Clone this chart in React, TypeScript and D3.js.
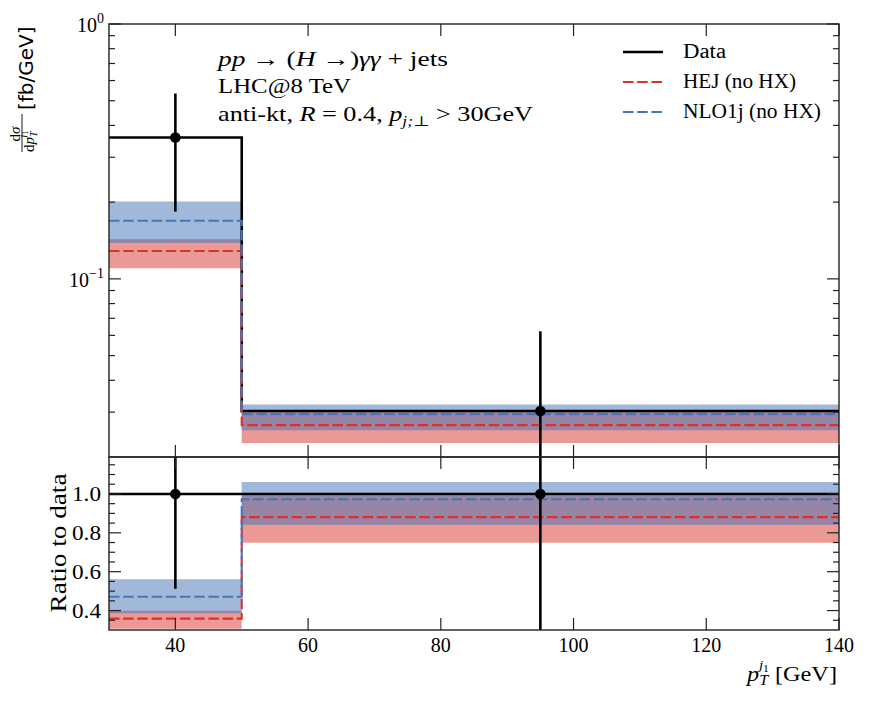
import * as d3 from "d3";

// bins and values
const binEdges = [30, 50, 140];
const binCentres = [40, 95];
const dataVals = [0.3586, 0.0303];
const dataErr = [0.175, 0.032];
const hejVals = [0.1286, 0.02668];
const hejLow = [0.11, 0.0227];
const hejHigh = [0.1429, 0.0301];
const nloVals = [0.169, 0.02947];
const nloLow = [0.1383, 0.02548];
const nloHigh = [0.201, 0.03216];

const xTicks = [40, 60, 80, 100, 120, 140];
const mainMajor = [1, 0.1];
const mainMinor = [0.03, 0.04, 0.05, 0.06, 0.07, 0.08, 0.09, 0.2, 0.3, 0.4, 0.5, 0.6, 0.7, 0.8, 0.9];
const ratioMajor = [0.4, 0.6, 0.8, 1.0];
const ratioMinor = [0.35, 0.45, 0.5, 0.55, 0.65, 0.7, 0.75, 0.85, 0.9, 0.95, 1.05, 1.1, 1.15];

const W = 872;
const H = 708;
const LEFT = 109;
const RIGHT = 839;
const MAIN = { top: 24, bottom: 457 };
const RATIO = { top: 457, bottom: 630 };

const BLUE = "#4676b8";
const RED = "#dc302c";
const BLUE_BAND = "rgba(66,114,180,0.5)";
const RED_BAND = "rgba(214,52,44,0.5)";
const SERIF = "'Liberation Serif', 'DejaVu Serif', serif";
const SANS = "'DejaVu Sans', sans-serif";
const DASH = "10.5 3.7";

const MAJ = 12;
const MIN = 6;

type Pt = { x: number; y: number };
type Band = { x: number; lo: number; hi: number };

const stepPts = (vals: number[]): Pt[] =>
  binEdges.map((x, i) => ({ x, y: vals[Math.min(i, vals.length - 1)] }));
const bandPts = (lo: number[], hi: number[]): Band[] =>
  binEdges.map((x, i) => {
    const k = Math.min(i, lo.length - 1);
    return { x, lo: lo[k], hi: hi[k] };
  });

export default function App() {
  const x = d3.scaleLinear().domain([30, 140]).range([LEFT, RIGHT]);
  const yMain = d3.scaleLog().domain([0.02, 1]).range([MAIN.bottom, MAIN.top]);
  const yRatio = d3.scaleLinear().domain([0.3, 1.19]).range([RATIO.bottom, RATIO.top]);

  const ratio = (v: number[]) => v.map((d, i) => d / dataVals[i]);

  const line = (y: (v: number) => number) =>
    d3
      .line<Pt>()
      .x((d) => x(d.x))
      .y((d) => y(d.y))
      .curve(d3.curveStepAfter);
  const area = (y: (v: number) => number) =>
    d3
      .area<Band>()
      .x((d) => x(d.x))
      .y0((d) => y(d.lo))
      .y1((d) => y(d.hi))
      .curve(d3.curveStepAfter);

  // negative lower error ends are clipped anyway
  const safeLog = (v: number) => yMain(Math.max(v, 0.005));

  const panel = (
    id: string,
    y: (v: number) => number,
    vals: {
      data: number[];
      err: number[];
      hej: number[];
      hejL: number[];
      hejH: number[];
      nlo: number[];
      nloL: number[];
      nloH: number[];
    }
  ) => (
    <g clipPath={`url(#${id})`}>
      <path d={area(y)(bandPts(vals.hejL, vals.hejH)) || ""} fill={RED_BAND} />
      <path d={area(y)(bandPts(vals.nloL, vals.nloH)) || ""} fill={BLUE_BAND} />
      <path d={line(y)(stepPts(vals.data)) || ""} fill="none" stroke="#000" strokeWidth={2.6} />
      <path
        d={line(y)(stepPts(vals.hej)) || ""}
        fill="none"
        stroke={RED}
        strokeWidth={2.1}
        strokeDasharray={DASH}
      />
      <path
        d={line(y)(stepPts(vals.nlo)) || ""}
        fill="none"
        stroke={BLUE}
        strokeWidth={2.1}
        strokeDasharray={DASH}
      />
      {binCentres.map((c, i) => (
        <g key={i}>
          <line
            x1={x(c)}
            x2={x(c)}
            y1={y(vals.data[i] - vals.err[i])}
            y2={y(vals.data[i] + vals.err[i])}
            stroke="#000"
            strokeWidth={2.6}
          />
          <circle cx={x(c)} cy={y(vals.data[i])} r={5.3} fill="#000" />
        </g>
      ))}
    </g>
  );

  const xTickMarks = (top: number, bottom: number) =>
    xTicks.map((t) => (
      <g key={`${top}-${t}`} stroke="#222" strokeWidth={1.2}>
        <line x1={x(t)} x2={x(t)} y1={top} y2={top + MAJ} />
        <line x1={x(t)} x2={x(t)} y1={bottom} y2={bottom - MAJ} />
      </g>
    ));

  const yTickMarks = (y: (v: number) => number, major: number[], minor: number[]) => (
    <g stroke="#222" strokeWidth={1.2}>
      {major.map((t) => (
        <g key={`M${t}`}>
          <line x1={LEFT} x2={LEFT + MAJ} y1={y(t)} y2={y(t)} />
          <line x1={RIGHT} x2={RIGHT - MAJ} y1={y(t)} y2={y(t)} />
        </g>
      ))}
      {minor.map((t) => (
        <g key={`m${t}`}>
          <line x1={LEFT} x2={LEFT + MIN} y1={y(t)} y2={y(t)} />
          <line x1={RIGHT} x2={RIGHT - MIN} y1={y(t)} y2={y(t)} />
        </g>
      ))}
    </g>
  );

  const legend = [
    { label: "Data", color: "#000", dash: undefined, width: 43, lw: 2.6 },
    { label: "HEJ (no HX)", color: RED, dash: DASH, width: 113, lw: 2.1 },
    { label: "NLO1j (no HX)", color: BLUE, dash: DASH, width: 138, lw: 2.1 },
  ];

  return (
    <svg width={W} height={H} style={{ display: "block", margin: -8 }} fontFamily={SERIF}>
      <defs>
        <clipPath id="clipMain">
          <rect x={LEFT} y={MAIN.top} width={RIGHT - LEFT} height={MAIN.bottom - MAIN.top} />
        </clipPath>
        <clipPath id="clipRatio">
          <rect x={LEFT} y={RATIO.top} width={RIGHT - LEFT} height={RATIO.bottom - RATIO.top} />
        </clipPath>
      </defs>
      <rect width={W} height={H} fill="#fff" />

      {panel("clipMain", safeLog, {
        data: dataVals,
        err: dataErr,
        hej: hejVals,
        hejL: hejLow,
        hejH: hejHigh,
        nlo: nloVals,
        nloL: nloLow,
        nloH: nloHigh,
      })}
      {panel("clipRatio", yRatio, {
        data: ratio(dataVals),
        err: ratio(dataErr),
        hej: ratio(hejVals),
        hejL: ratio(hejLow),
        hejH: ratio(hejHigh),
        nlo: ratio(nloVals),
        nloL: ratio(nloLow),
        nloH: ratio(nloHigh),
      })}

      {/* frames and ticks */}
      <rect x={LEFT} y={MAIN.top} width={RIGHT - LEFT} height={MAIN.bottom - MAIN.top} fill="none" stroke="#222" strokeWidth={1.4} />
      <rect x={LEFT} y={RATIO.top} width={RIGHT - LEFT} height={RATIO.bottom - RATIO.top} fill="none" stroke="#222" strokeWidth={1.4} />
      {xTickMarks(MAIN.top, MAIN.bottom)}
      {xTickMarks(RATIO.top, RATIO.bottom)}
      {yTickMarks(yMain, mainMajor, mainMinor)}
      {yTickMarks(yRatio, ratioMajor, ratioMinor)}

      {/* tick labels */}
      <g fontSize={20} fill="#000">
        {xTicks.map((t) => (
          <text key={t} x={x(t)} y={652} textAnchor="middle" textLength={t >= 100 ? 30 : 20} lengthAdjust="spacingAndGlyphs">
            {t}
          </text>
        ))}
        {ratioMajor.map((t) => (
          <text key={t} x={101} y={yRatio(t) + 7} textAnchor="end" textLength={29} lengthAdjust="spacingAndGlyphs">
            {t.toFixed(1)}
          </text>
        ))}
        <text x={104} y={yMain(1) + 8} textAnchor="end">
          10
          <tspan dy={-9} fontSize={14}>
            0
          </tspan>
        </text>
        <text x={104} y={yMain(0.1) + 8} textAnchor="end">
          10
          <tspan dy={-9} fontSize={14}>
            −1
          </tspan>
        </text>
      </g>

      {/* y label main */}
      <g transform="translate(33,153) rotate(-90)">
        <text x={19} y={-13.5} fontSize={15} textAnchor="middle">
          d<tspan fontStyle="italic">σ</tspan>
        </text>
        <line x1={1} x2={39} y1={-11} y2={-11} stroke="#000" strokeWidth={0.9} />
        <text x={1} y={1} fontSize={15}>
          d<tspan fontStyle="italic">p</tspan>
          <tspan fontStyle="italic" fontSize={10} dy={3}>
            T
          </tspan>
          <tspan fontStyle="italic" fontSize={10} dx={-6} dy={-11}>
            j
          </tspan>
          <tspan fontSize={7.5} dy={2}>
            1
          </tspan>
        </text>
        <text x={43} y={0} fontSize={20} fontFamily={SANS}>
          [fb/GeV]
        </text>
      </g>

      {/* y label ratio */}
      <text
        transform="translate(66,543) rotate(-90)"
        textAnchor="middle"
        fontSize={23}
        textLength={139}
        lengthAdjust="spacingAndGlyphs"
      >
        Ratio to data
      </text>

      {/* x label */}
      <text x={837} y={681} textAnchor="end" fontSize={21} textLength={90} lengthAdjust="spacingAndGlyphs">
        <tspan fontStyle="italic">p</tspan>
        <tspan fontStyle="italic" fontSize={14} dy={4}>
          T
        </tspan>
        <tspan fontStyle="italic" fontSize={13} dx={-8} dy={-16}>
          j
        </tspan>
        <tspan fontSize={10} dy={3}>
          1
        </tspan>
        <tspan dy={9}> [GeV]</tspan>
      </text>

      {/* annotation */}
      <g fontSize={21} fill="#000">
        <text x={218} y={66} textLength={230} lengthAdjust="spacingAndGlyphs">
          <tspan fontStyle="italic">pp</tspan> → (<tspan fontStyle="italic">H</tspan> →)
          <tspan fontStyle="italic">γγ</tspan> + jets
        </text>
        <text x={218} y={93} textLength={133} lengthAdjust="spacingAndGlyphs">
          LHC@8 TeV
        </text>
        <text x={218} y={121} textLength={315} lengthAdjust="spacingAndGlyphs">
          anti-kt, <tspan fontStyle="italic">R</tspan> = 0.4,{" "}
          <tspan fontStyle="italic">p</tspan>
          <tspan fontStyle="italic" fontSize={14} dy={5}>
            j;⊥
          </tspan>
          <tspan dy={-5}> &gt; 30GeV</tspan>
        </text>
      </g>

      {/* legend */}
      <g fontSize={20}>
        {legend.map((l, i) => (
          <g key={l.label} transform={`translate(0,${52 + i * 30})`}>
            <line x1={623} x2={663} y1={0} y2={0} stroke={l.color} strokeWidth={l.lw} strokeDasharray={l.dash} />
            <text x={683} y={6} textLength={l.width} lengthAdjust="spacingAndGlyphs">
              {l.label}
            </text>
          </g>
        ))}
      </g>
    </svg>
  );
}
